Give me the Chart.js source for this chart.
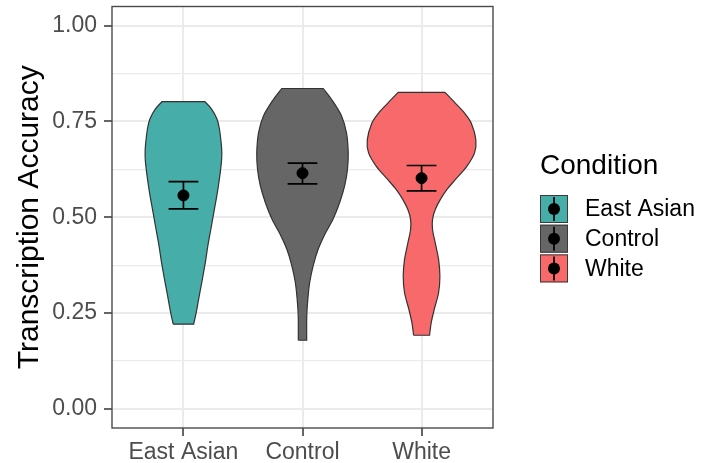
<!DOCTYPE html>
<html>
<head>
<meta charset="utf-8">
<script src="https://cdn.jsdelivr.net/npm/chart.js@4/dist/chart.umd.min.js"></script>
<style>
  html, body { margin: 0; padding: 0; background: #ffffff; }
  canvas { display: block; }
</style>
</head>
<body>
<canvas id="chart" width="703" height="463"></canvas>
<script>
// Groups and summary statistics (mean with 95% CI)
const categories = ['East Asian', 'Control', 'White'];
const fillColors = ['#46ADA8', '#666666', '#F8696B'];
const meanAccuracy = [0.557, 0.615, 0.602];
const ciLower = [0.522, 0.587, 0.569];
const ciUpper = [0.593, 0.641, 0.635];

// Violin outlines: accuracy levels (bottom to top) and density half-widths in category units
const eastAsianLevels = [0.221, 0.254, 0.297, 0.340, 0.384, 0.427, 0.470, 0.514, 0.557, 0.600, 0.644, 0.665, 0.687, 0.731, 0.757, 0.783, 0.802];
const eastAsianHalfWidth = [0.086, 0.109, 0.134, 0.160, 0.185, 0.206, 0.231, 0.256, 0.281, 0.302, 0.319, 0.322, 0.319, 0.302, 0.281, 0.235, 0.179];

const controlLevels = [0.179, 0.244, 0.287, 0.331, 0.374, 0.417, 0.452, 0.496, 0.539, 0.583, 0.626, 0.669, 0.721, 0.765, 0.808, 0.836];
const controlHalfWidth = [0.035, 0.036, 0.045, 0.061, 0.090, 0.132, 0.182, 0.258, 0.313, 0.355, 0.378, 0.384, 0.369, 0.327, 0.243, 0.174];

const whiteLevels = [0.192, 0.225, 0.260, 0.303, 0.346, 0.390, 0.433, 0.468, 0.494, 0.520, 0.546, 0.572, 0.598, 0.633, 0.668, 0.702, 0.746, 0.772, 0.798, 0.826];
const whiteHalfWidth = [0.067, 0.081, 0.107, 0.143, 0.154, 0.143, 0.115, 0.092, 0.092, 0.115, 0.157, 0.212, 0.283, 0.380, 0.445, 0.456, 0.417, 0.361, 0.283, 0.196];

// Axis ticks
const yMajorTicks = [0, 0.25, 0.5, 0.75, 1];
const yMinorTicks = [0.125, 0.375, 0.625, 0.875];

const violinLevels = [eastAsianLevels, controlLevels, whiteLevels];
const violinHalfWidths = [eastAsianHalfWidth, controlHalfWidth, whiteHalfWidth];

const FONT = '"Liberation Sans", Arial, Helvetica, sans-serif';
const CAP_HALF = 0.125; // error bar cap half-width (category units)

// Closed outline: up the left side, across the flat top, down the right side
// and across the flat bottom. End points are repeated so the smoothed curve
// keeps square corners where the density is trimmed.
function violinOutline(center, levels, half) {
  const left = levels.map((y, i) => ({ x: center - half[i], y }));
  const right = levels.map((y, i) => ({ x: center + half[i], y })).reverse();
  const n = left.length;
  const path = [left[0], ...left, left[n - 1], right[0], ...right, right[n - 1], left[0], left[0]];
  return path;
}

function errorBarPath() {
  const pts = [];
  categories.forEach((_, i) => {
    const c = i + 1, lo = ciLower[i], hi = ciUpper[i];
    pts.push({ x: c - CAP_HALF, y: hi }, { x: c + CAP_HALF, y: hi }, { x: c, y: null });
    pts.push({ x: c, y: hi }, { x: c, y: lo }, { x: c, y: null });
    pts.push({ x: c - CAP_HALF, y: lo }, { x: c + CAP_HALF, y: lo }, { x: c, y: null });
  });
  return pts;
}

const violinDatasets = categories.map((name, i) => ({
  label: name,
  data: violinOutline(i + 1, violinLevels[i], violinHalfWidths[i]),
  showLine: true,
  fill: 'shape',
  backgroundColor: fillColors[i],
  borderColor: '#333333',
  borderWidth: 1.2,
  borderJoinStyle: 'miter',
  pointRadius: 0,
  tension: 0.3,
  order: 2
}));

const datasets = [
  {
    label: 'Mean',
    data: categories.map((_, i) => ({ x: i + 1, y: meanAccuracy[i] })),
    showLine: false,
    pointRadius: 5.5,
    pointBackgroundColor: '#000000',
    pointBorderColor: '#000000',
    pointBorderWidth: 1,
    order: 0
  },
  {
    label: '95% CI',
    data: errorBarPath(),
    showLine: true,
    fill: false,
    borderColor: '#000000',
    borderWidth: 1.7,
    pointRadius: 0,
    spanGaps: false,
    order: 1
  },
  ...violinDatasets
];

const isMajor = v => yMajorTicks.some(m => Math.abs(m - v) < 1e-9);

// Panel border drawn over the data, as in a bordered plotting panel
const panelFrame = {
  id: 'panelFrame',
  afterDatasetsDraw(chart) {
    const { ctx, chartArea: a } = chart;
    ctx.save();
    ctx.strokeStyle = '#4a4a4a';
    ctx.lineWidth = 1.4;
    ctx.strokeRect(a.left, a.top, a.right - a.left, a.bottom - a.top);
    ctx.restore();
  }
};

// Legend: title plus filled keys carrying the point-and-interval glyph
const conditionLegend = {
  id: 'conditionLegend',
  afterDraw(chart) {
    const ctx = chart.ctx;
    const x0 = chart.chartArea.right + 47;
    ctx.save();
    ctx.fillStyle = '#000000';
    ctx.textAlign = 'left';
    ctx.textBaseline = 'alphabetic';
    ctx.font = '28px ' + FONT;
    ctx.fillText('Condition', x0, 174);
    const size = 28, step = 29.7, top0 = 195;
    categories.forEach((name, i) => {
      const top = top0 + i * step;
      const cx = x0 + size / 2, cy = top + size / 2;
      ctx.fillStyle = fillColors[i];
      ctx.fillRect(x0, top, size, size);
      ctx.strokeStyle = '#3a3a3a';
      ctx.lineWidth = 1;
      ctx.strokeRect(x0 + 0.5, top + 0.5, size - 1, size - 1);
      ctx.strokeStyle = '#000000';
      ctx.lineWidth = 1.7;
      ctx.beginPath();
      ctx.moveTo(cx, top + 2);
      ctx.lineTo(cx, top + size - 2);
      ctx.stroke();
      ctx.fillStyle = '#000000';
      ctx.beginPath();
      ctx.arc(cx, cy, 6, 0, Math.PI * 2);
      ctx.fill();
      ctx.font = '23px ' + FONT;
      ctx.textBaseline = 'middle';
      ctx.fillText(name, x0 + 45, cy + 1);
    });
    ctx.restore();
  }
};

Chart.defaults.font.family = FONT;

new Chart(document.getElementById('chart'), {
  type: 'scatter',
  data: { datasets },
  options: {
    responsive: false,
    animation: false,
    devicePixelRatio: 1,
    layout: { padding: { left: 4, top: 6, right: 210, bottom: 0 } },
    plugins: {
      legend: { display: false },
      tooltip: { enabled: false }
    },
    scales: {
      x: {
        type: 'linear',
        min: 0.4,
        max: 3.6,
        afterBuildTicks: scale => { scale.ticks = categories.map((_, i) => ({ value: i + 1 })); },
        afterFit: scale => { scale.height = 35; scale.paddingLeft = 0; scale.paddingRight = 0; },
        border: { display: false },
        grid: {
          color: '#EBEBEB',
          lineWidth: 2,
          drawTicks: true,
          tickLength: 8,
          tickColor: '#333333',
          tickWidth: 1.5
        },
        ticks: {
          autoSkip: false,
          maxRotation: 0,
          padding: 3,
          color: '#4D4D4D',
          font: { size: 23 },
          callback: v => categories[Math.round(v) - 1]
        }
      },
      y: {
        type: 'linear',
        min: -0.05,
        max: 1.05,
        afterBuildTicks: scale => {
          scale.ticks = yMajorTicks.concat(yMinorTicks).sort((a, b) => a - b).map(v => ({ value: v }));
        },
        afterFit: scale => { scale.width = 108; scale.paddingTop = 0; scale.paddingBottom = 0; },
        border: { display: false },
        grid: {
          color: '#EBEBEB',
          lineWidth: c => (isMajor(c.tick.value) ? 2 : 1.2),
          drawTicks: true,
          tickLength: 8,
          tickColor: c => (isMajor(c.tick.value) ? '#333333' : 'rgba(0,0,0,0)'),
          tickWidth: 1.5
        },
        ticks: {
          autoSkip: false,
          padding: 7,
          color: '#4D4D4D',
          font: { size: 23 },
          callback: v => (isMajor(v) ? v.toFixed(2) : '')
        },
        title: {
          display: true,
          text: 'Transcription Accuracy',
          color: '#000000',
          font: { size: 30 },
          padding: { top: 8, bottom: 0 }
        }
      }
    }
  },
  plugins: [panelFrame, conditionLegend]
});
</script>
</body>
</html>
